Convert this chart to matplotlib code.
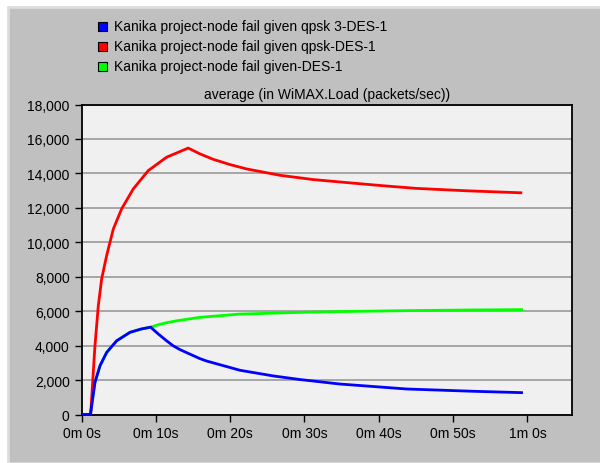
import numpy as np
import matplotlib
matplotlib.use('Agg')
import matplotlib.pyplot as plt
from matplotlib.patches import Rectangle

plt.rcParams['font.family'] = ['Liberation Sans', 'DejaVu Sans']

#%% Data (time in seconds, load in packets/sec)
red_t = [0, 1.23, 1.81, 2.26, 2.71, 3.38, 4.28, 5.4, 6.97, 8.98, 11.45, 14.36,
         15.9, 17.7, 20.0, 22.2, 26.7, 31.2, 35.6, 40.1, 45.0, 51.8, 59.3]
red_v = [0, 0, 3990, 6310, 7870, 9220, 10770, 11940, 13100, 14160, 14940, 15470,
         15140, 14820, 14510, 14260, 13890, 13640, 13470, 13300, 13130, 12990, 12870]

blue_t = [0, 1.2, 1.81, 2.49, 3.38, 4.73, 6.52, 8.0, 9.3, 10.4, 11.45, 12.3,
          13.24, 15.9, 16.8, 21.3, 25.8, 29.4, 34.7, 43.7, 52.7, 59.4]
blue_v = [0, 0, 1860, 2830, 3600, 4280, 4770, 4960, 5070, 4650, 4280, 4000,
          3770, 3250, 3110, 2570, 2240, 2030, 1772, 1482, 1348, 1267]

green_t = [0, 1.2, 1.81, 2.49, 3.38, 4.73, 6.52, 8.0, 9.3, 10.4, 11.45, 12.8,
           15.9, 21.3, 29.4, 34.7, 43.7, 52.7, 59.4]
green_v = [0, 0, 1860, 2830, 3600, 4280, 4770, 4960, 5070, 5220, 5330, 5440,
           5640, 5830, 5930, 5975, 6030, 6070, 6090]

labels = ['Kanika project-node fail given qpsk 3-DES-1',
          'Kanika project-node fail given qpsk-DES-1',
          'Kanika project-node fail given-DES-1']
colors = ['#0000ff', '#ff0000', '#00ff00']

xticks = [0, 10, 20, 30, 40, 50, 60]
xticklabels = ['0m 0s', '0m 10s', '0m 20s', '0m 30s', '0m 40s', '0m 50s', '1m 0s']
yticks = np.arange(0, 18001, 2000)

#%% Figure
fig = plt.figure(figsize=(6.0, 4.64), dpi=100)
fig.patch.set_facecolor('white')
fig.patches.append(Rectangle((8/600, 0), 1, 1 - 8/464, transform=fig.transFigure,
                             facecolor='#c0c0c0', edgecolor='#dcdcdc', lw=2, zorder=-5))

ax = fig.add_axes([81.5/600, 1 - 415.5/464, (572 - 81.5)/600, (415.5 - 105.5)/464])
ax.set_facecolor('#f0f0f0')

kw = dict(lw=2.0, solid_joinstyle='round', solid_capstyle='butt')
ax.plot(green_t, green_v, color=colors[2], zorder=3, **kw)
ax.plot(red_t, red_v, color=colors[1], zorder=4, **kw)
ax.plot(blue_t, blue_v, color=colors[0], zorder=5, **kw)

ax.set_xlim(0, 66)
ax.set_ylim(0, 18000)
ax.set_xticks(xticks)
ax.set_xticklabels(xticklabels)
ax.set_yticks(yticks)
ax.set_yticklabels(['{:,}'.format(v) for v in yticks])
ax.yaxis.grid(True, color='#a0a0a0', lw=1.3)
ax.set_axisbelow(True)
ax.tick_params(direction='out', length=5, width=1, labelsize=10, colors='black')
for s in ax.spines.values():
    s.set_linewidth(1.3)
    s.set_color('black')

ax.text(0.5, 1.012, 'average (in WiMAX.Load (packets/sec))', transform=ax.transAxes,
        ha='center', va='bottom', fontsize=10)

#%% Legend drawn by hand
for i in range(3):
    yc = 1 - (27 + 20*i)/464
    fig.patches.append(Rectangle((98/600, yc - 4.5/464), 9/600, 9/464,
                                 transform=fig.transFigure, facecolor=colors[i],
                                 edgecolor='black', lw=0.8, zorder=2))
    fig.text(114/600, yc, labels[i], ha='left', va='center', fontsize=10)

fig.savefig('out.png', dpi=100)
